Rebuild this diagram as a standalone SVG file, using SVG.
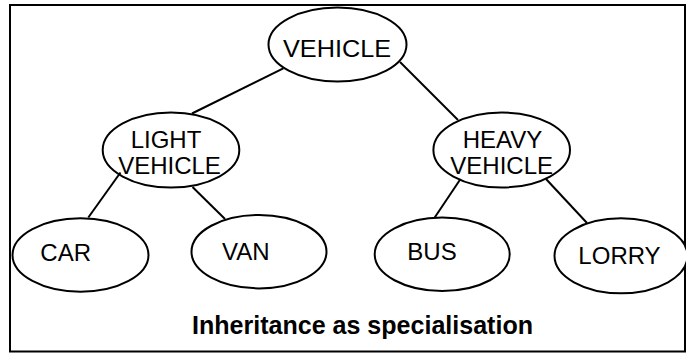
<svg xmlns="http://www.w3.org/2000/svg" width="686" height="353" viewBox="0 0 686 353">
  <style>
    .node ellipse { fill: #ffffff; stroke: #000000; stroke-width: 2; }
    .node text { font-family: "Liberation Sans", Arial, sans-serif; font-size: 24px; fill: #000000; text-anchor: middle; }
    #connectors line { stroke: #000000; stroke-width: 2; stroke-linecap: butt; }
    .caption { font-family: "Liberation Sans", Arial, sans-serif; font-size: 25px; font-weight: bold; fill: #000000; }
  </style>

  <!-- outer frame -->
  <rect x="10" y="5" width="675" height="346.5" fill="#ffffff" stroke="#000000" stroke-width="2"/>

  <g id="vehicle" class="node">
    <ellipse cx="337.5" cy="44.5" rx="69" ry="37"/>
    <text x="337" y="56.7" textLength="108" lengthAdjust="spacingAndGlyphs">VEHICLE</text>
  </g>

  <g id="light-vehicle" class="node">
    <ellipse cx="171" cy="150" rx="68.3" ry="37.5"/>
    <text x="166" y="148">LIGHT</text>
    <text x="169.5" y="173.5">VEHICLE</text>
  </g>

  <g id="heavy-vehicle" class="node">
    <ellipse cx="501.7" cy="150" rx="68.3" ry="37.5"/>
    <text x="502.5" y="148">HEAVY</text>
    <text x="501.7" y="173.5">VEHICLE</text>
  </g>

  <g id="car" class="node">
    <ellipse cx="80.5" cy="255" rx="68" ry="36.7"/>
    <text x="65.7" y="261">CAR</text>
  </g>

  <g id="van" class="node">
    <ellipse cx="259" cy="251.7" rx="67.5" ry="36.7"/>
    <text x="245.7" y="260">VAN</text>
  </g>

  <g id="bus" class="node">
    <ellipse cx="442.2" cy="254.3" rx="67.5" ry="36.7"/>
    <text x="432" y="260">BUS</text>
  </g>

  <g id="lorry" class="node">
    <ellipse cx="621" cy="255.8" rx="66.5" ry="37.5"/>
    <text x="619.5" y="263.5">LORRY</text>
  </g>

  <g id="connectors">
    <line x1="283.3" y1="68.3" x2="192" y2="113.5"/>
    <line x1="400" y1="62" x2="458" y2="120"/>
    <line x1="120.5" y1="172.5" x2="88.3" y2="217.5"/>
    <line x1="192.5" y1="187" x2="225" y2="219"/>
    <line x1="460.5" y1="179" x2="434.7" y2="217.5"/>
    <line x1="546" y1="179" x2="587" y2="223"/>
  </g>

  <text class="caption" x="192" y="333.5" textLength="341" lengthAdjust="spacingAndGlyphs">Inheritance as specialisation</text>
</svg>
